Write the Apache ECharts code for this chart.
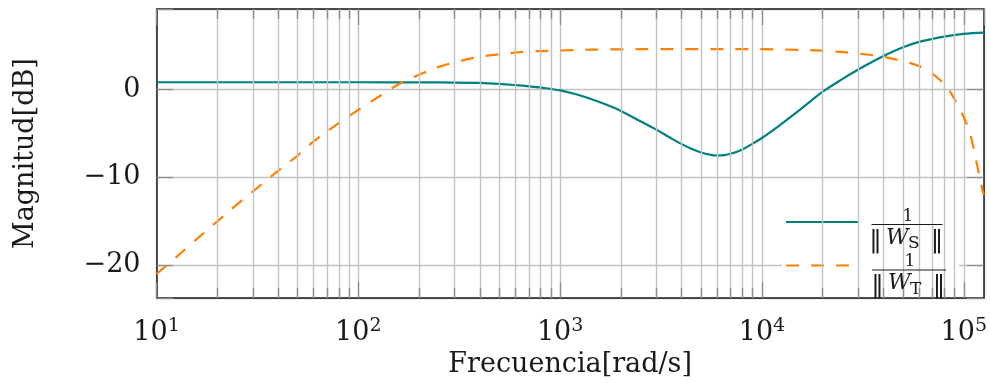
<!DOCTYPE html>
<html>
<head>
<meta charset="utf-8">
<script src="https://cdn.jsdelivr.net/npm/echarts@6/dist/echarts.min.js"></script>
<style>
  html, body { margin: 0; padding: 0; background: #fff; }
  #chart { width: 990px; height: 383px; }
</style>
</head>
<body>
<div id="chart"></div>
<script>
// Frequency (rad/s) and magnitude (dB) samples for 1/||W_S||
const wsFreq = [10, 20, 50, 100, 200, 300, 400, 500, 600, 700,
  850, 1000, 1200, 1400, 1700, 2000, 2500, 3000, 3500, 4000,
  4500, 5000, 5500, 6000, 6500, 7000, 8000, 9000, 10000, 12000,
  15000, 17500, 20000, 25000, 30000, 40000, 50000, 60000, 80000, 100000,
  125600];
const wsDb = [0.85, 0.85, 0.85, 0.85, 0.84, 0.82, 0.77, 0.66, 0.52, 0.38,
  0.17, -0.08, -0.52, -1.0, -1.72, -2.42, -3.6, -4.55, -5.45, -6.2,
  -6.75, -7.15, -7.4, -7.5, -7.46, -7.3, -6.8, -6.14, -5.5, -4.2,
  -2.5, -1.26, -0.22, 1.21, 2.3, 3.84, 4.83, 5.45, 6.06, 6.36,
  6.5];

// Frequency (rad/s) and magnitude (dB) samples for 1/||W_T||
const wtFreq = [10, 12.5, 15, 20, 25, 30, 40, 50, 60, 80,
  100, 130, 165, 200, 250, 330, 400, 500, 700, 1000,
  1500, 2000, 3000, 5000, 10000, 15000, 20000, 30000, 40000, 50000,
  59000, 67000, 75000, 83000, 89000, 96000, 102000, 107000, 111000, 114000,
  118000, 121000, 125600];
const wtDb = [-21.0, -19.1, -17.5, -15.0, -13.1, -11.6, -9.25, -7.5, -5.9, -3.8,
  -2.3, -0.6, 0.85, 1.7, 2.6, 3.35, 3.75, 4.05, 4.35, 4.47,
  4.58, 4.6, 4.63, 4.63, 4.62, 4.55, 4.45, 4.12, 3.75, 3.25,
  2.75, 2.1, 1.25, 0.25, -0.9, -2.3, -3.6, -4.9, -6.3, -7.6,
  -9.2, -10.45, -12.0];

const yTickValues = [-20, -10, 0];
const xDecades = [10, 100, 1000, 10000, 100000];
const seriesNames = ['ws', 'wt'];
const legendSubscripts = ['S', 'T'];

const xMin = 10, xMax = 125600;
const yMin = -23.75, yMax = 9.2;

const FONT = 'DejaVu Serif';
const TEXT = '#1a1a1a';
const GRID = '#c2c2c2';
const TICK = '#8e8e8e';
const TEAL = '#008080';
const ORANGE = '#ff8000';

// minor decade lines (2..9 x 10^k) inside the range
const minorFreqs = [];
xDecades.forEach(d => {
  for (let m = 2; m <= 9; m++) {
    if (d * m < xMax) minorFreqs.push(d * m);
  }
});
const plotH = 290;
const tickDy = 10 * (yMax - yMin) / plotH;

const gridMarks = [];
minorFreqs.forEach(f => gridMarks.push({ xAxis: f }));
minorFreqs.forEach(f => {
  gridMarks.push([{ coord: [f, yMin], lineStyle: { color: TICK } }, { coord: [f, yMin + tickDy] }]);
  gridMarks.push([{ coord: [f, yMax], lineStyle: { color: TICK } }, { coord: [f, yMax - tickDy] }]);
});

const pairs = (xs, ys) => xs.map((x, i) => [x, ys[i]]);

const isDecade = v => {
  const e = Math.log10(v);
  return Math.abs(e - Math.round(e)) < 1e-6;
};

const xLabel = {
  fontFamily: FONT,
  color: TEXT,
  margin: 18,
  showMaxLabel: false,
  formatter: v => isDecade(v) ? '{b|10}{e|' + Math.round(Math.log10(v)) + '}' : '',
  rich: {
    b: { fontFamily: FONT, fontSize: 27, lineHeight: 30, color: TEXT, verticalAlign: 'bottom' },
    e: { fontFamily: FONT, fontSize: 19, lineHeight: 14, color: TEXT, verticalAlign: 'top' }
  }
};

// legend label 1 / ||W_x||, built from plain text pieces
function fraction(sub, cx, cy, barHalf) {
  const t = (text, x, y, size, italic, align) => ({
    type: 'text', z: 100,
    style: {
      text, x, y, align: align || 'center', verticalAlign: 'middle',
      fontFamily: FONT, fontSize: size, fontStyle: italic ? 'italic' : 'normal',
      font: (italic ? 'italic ' : '') + size + 'px "DejaVu Serif"',
      fill: TEXT
    }
  });
  return [
    t('1', cx + 1, cy - 8, 17, false),
    { type: 'line', z: 100, shape: { x1: cx - barHalf, y1: cy, x2: cx + barHalf, y2: cy }, style: { stroke: TEXT, lineWidth: 1.2 } },
    t('\u2016', cx - 31.5, cy + 15.5, 25, false),
    t('W', cx - 21, cy + 13.5, 22, true, 'left'),
    t(sub, cx + 1, cy + 19.5, 17, false, 'left'),
    t('\u2016', cx + 30, cy + 15.5, 25, false)
  ];
}

const chart = echarts.init(document.getElementById('chart'), null, { renderer: 'canvas' });

const axisLineStyle = { show: true, onZero: false, lineStyle: { color: TEXT, width: 1.5 } };
const tickStyle = { show: true, inside: true, length: 16, lineStyle: { color: TICK, width: 1.3 } };

chart.setOption({
  animation: false,
  backgroundColor: '#fff',
  grid: { left: 156.5, right: 3.5, top: 9, bottom: 84, containLabel: false },
  xAxis: [{
    type: 'log', logBase: 10, min: xMin, max: xMax, position: 'bottom',
    axisLine: axisLineStyle,
    axisTick: tickStyle,
    splitLine: { show: true, lineStyle: { color: GRID, width: 1.4 } },
    axisLabel: xLabel,
    name: 'Frecuencia[rad/s]', nameLocation: 'middle', nameGap: 50,
    nameTextStyle: { fontFamily: FONT, fontSize: 27, color: TEXT }
  }, {
    type: 'log', logBase: 10, min: xMin, max: xMax, position: 'top',
    axisLine: axisLineStyle,
    axisTick: tickStyle,
    splitLine: { show: false },
    axisLabel: { show: false }
  }],
  yAxis: [{
    type: 'value', min: yMin, max: yMax, splitNumber: 3, position: 'left',
    axisLine: axisLineStyle,
    axisTick: Object.assign({}, tickStyle, { length: 17 }),
    splitLine: { show: true, lineStyle: { color: GRID, width: 1.4 } },
    axisLabel: {
      fontFamily: FONT, fontSize: 27, color: TEXT, margin: 16,
      formatter: v => yTickValues.indexOf(v) >= 0 ? (v < 0 ? '\u2212' + Math.abs(v) : String(v)) : ''
    },
    name: 'Magnitud[dB]', nameLocation: 'middle', nameGap: 117, nameRotate: 90,
    nameTextStyle: { fontFamily: FONT, fontSize: 27, color: TEXT }
  }, {
    type: 'value', min: yMin, max: yMax, splitNumber: 3, position: 'right',
    axisLine: axisLineStyle,
    axisTick: Object.assign({}, tickStyle, { length: 17 }),
    splitLine: { show: false },
    axisLabel: { show: false }
  }],
  legend: {
    orient: 'vertical', left: 782, top: 200,
    itemWidth: 72, itemHeight: 20, itemGap: 25.4,
    padding: [12, 100, 20, 3],
    backgroundColor: '#fff',
    selectedMode: false,
    itemStyle: { opacity: 0 },
    formatter: () => '',
    textStyle: { fontSize: 1 },
    data: seriesNames
  },
  graphic: [].concat(
    fraction(legendSubscripts[0], 907, 224.5, 35.5),
    fraction(legendSubscripts[1], 909, 270, 37)
  ),
  series: [{
    name: 'gridlines', type: 'line', data: [], z: 1, silent: true,
    markLine: {
      silent: true, symbol: ['none', 'none'], label: { show: false }, animation: false,
      emphasis: { disabled: true },
      lineStyle: { color: GRID, width: 1.4, type: 'solid' },
      data: gridMarks
    }
  }, {
    name: seriesNames[0], type: 'line', z: 3,
    data: pairs(wsFreq, wsDb),
    showSymbol: false, symbol: 'none',
    smooth: 0.35,
    lineStyle: { color: TEAL, width: 2.2 },
    itemStyle: { color: TEAL }
  }, {
    name: seriesNames[1], type: 'line', z: 3,
    data: pairs(wtFreq, wtDb),
    showSymbol: false, symbol: 'none',
    smooth: 0.35,
    lineStyle: { color: ORANGE, width: 2.2, type: [13, 12] },
    itemStyle: { color: ORANGE }
  }]
});
</script>
</body>
</html>
